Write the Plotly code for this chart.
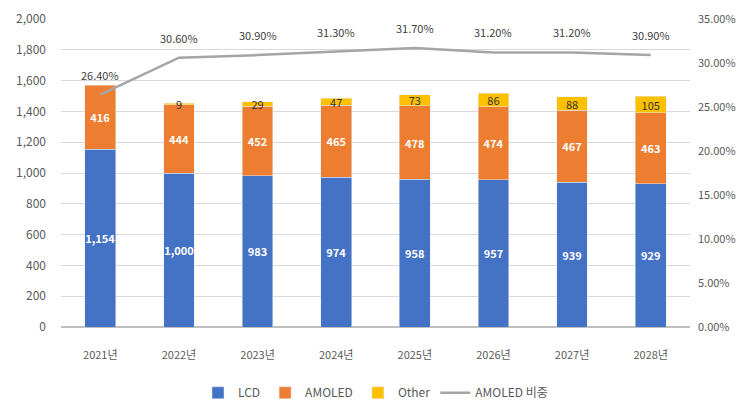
import plotly.graph_objects as go

years = ["2021년", "2022년", "2023년", "2024년", "2025년", "2026년", "2027년", "2028년"]
lcd = [1154, 1000, 983, 974, 958, 957, 939, 929]
amoled = [416, 444, 452, 465, 478, 474, 467, 463]
other = [None, 9, 29, 47, 73, 86, 88, 105]
share = [26.40, 30.60, 30.90, 31.30, 31.70, 31.20, 31.20, 30.90]

FONT = "Noto Sans CJK KR"
fig = go.Figure()
common = dict(textposition="inside", insidetextanchor="middle", textangle=0, constraintext="none")
fig.add_trace(go.Bar(x=years, y=lcd, name="LCD", marker_color="#4472C4",
                     text=[f"{v:,}" for v in lcd], **common,
                     textfont=dict(color="white", size=11, family=FONT, weight="bold")))
fig.add_trace(go.Bar(x=years, y=amoled, name="AMOLED", marker_color="#ED7D31",
                     text=[str(v) for v in amoled], **common,
                     textfont=dict(color="white", size=11, family=FONT, weight="bold")))
fig.add_trace(go.Bar(x=years, y=other, name="Other", marker_color="#FFC000",
                     text=["" if v is None else str(v) for v in other], **common,
                     textfont=dict(color="#333333", size=11, family=FONT)))
fig.add_trace(go.Scatter(x=years, y=share, name="AMOLED 비중", yaxis="y2", mode="lines",
                         line=dict(color="#A5A5A5", width=2.5)))

for x, v in zip(years, share):
    fig.add_annotation(x=x, y=v, xref="x", yref="y2", text=f"{v:.2f}%", showarrow=False,
                       yshift=20, font=dict(color="#404040", size=11, family=FONT))

fig.update_layout(
    width=739, height=400, barmode="stack", bargap=0.61,
    margin=dict(l=61, r=49, t=19, b=73, autoexpand=False),
    plot_bgcolor="white", paper_bgcolor="white",
    font=dict(family=FONT, size=12, color="#595959"),
    xaxis=dict(showgrid=False, ticks="", showline=False, ticklabelstandoff=20,
               tickfont=dict(size=11), automargin=False),
    yaxis=dict(range=[0, 2000], dtick=200, tickformat=",", gridcolor="#D9D9D9",
               zeroline=True, zerolinecolor="#BFBFBF", ticks="", ticklabelstandoff=14,
               automargin=False),
    yaxis2=dict(overlaying="y", side="right", range=[0, 35],
                tickvals=[0, 5, 10, 15, 20, 25, 30, 35],
                ticktext=[f"{v:.2f}%" for v in [0, 5, 10, 15, 20, 25, 30, 35]],
                showgrid=False, zeroline=False, ticks="", ticklabelstandoff=7,
                tickfont=dict(size=11), automargin=False),
    legend=dict(orientation="h", x=0.5, xanchor="center", yref="container", y=0.018,
                yanchor="middle", font=dict(size=12, color="#595959"), traceorder="normal"),
)
fig.write_html("out.html")
